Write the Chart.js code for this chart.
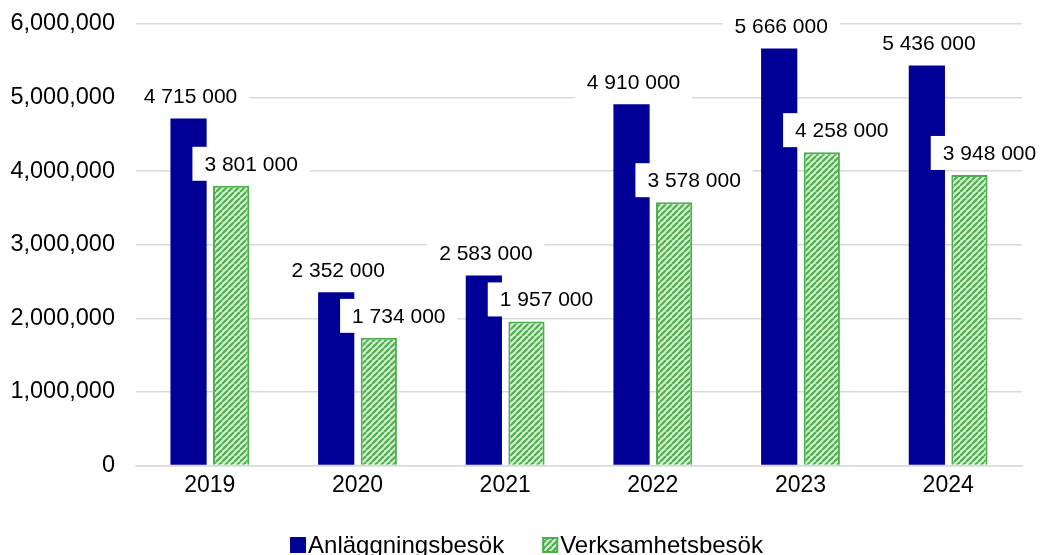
<!DOCTYPE html>
<html>
<head>
<meta charset="utf-8">
<script src="https://cdn.jsdelivr.net/npm/chart.js@4"></script>
<style>
    html, body { margin: 0; padding: 0; background: #fff; }
    #wrap { width: 1041px; height: 555px; }
</style>
</head>
<body>
<div id="wrap"><canvas id="besokChart"></canvas></div>
<script>
// data
const years = ['2019', '2020', '2021', '2022', '2023', '2024'];
const anlaggningsbesok = [4715000, 2352000, 2583000, 4910000, 5666000, 5436000];
const verksamhetsbesok = [3801000, 1734000, 1957000, 3578000, 4258000, 3948000];
const yTicks = [0, 1000000, 2000000, 3000000, 4000000, 5000000, 6000000];

const FONT = '"Liberation Sans", Arial, sans-serif';
const BLUE = '#000096';
const GREEN = '#4cae4c';

// randig grön fyllning
function makeStripes() {
    const c = document.createElement('canvas');
    c.width = 6;
    c.height = 6;
    const g = c.getContext('2d');
    g.fillStyle = '#d4ecd0';
    g.fillRect(0, 0, 6, 6);
    g.strokeStyle = GREEN;
    g.lineWidth = 2;
    g.beginPath();
    for (let k = -6; k <= 12; k += 6) {
        g.moveTo(k, 6);
        g.lineTo(k + 6, 0);
    }
    g.stroke();
    return g.createPattern(c, 'repeat');
}

const stripes = makeStripes();

function spaced(v) {
    return String(v).replace(/\B(?=(\d{3})+(?!\d))/g, ' ');
}

// etiketter med vit bakgrund (gröna förskjutna åt höger)
const labelShift = [2, 20];

const labelPlugin = {
    id: 'boxLabels',
    afterDatasetsDraw(chart) {
        const ctx = chart.ctx;
        ctx.save();
        ctx.font = '21px ' + FONT;
        ctx.textAlign = 'center';
        ctx.textBaseline = 'middle';
        chart.data.datasets.forEach((ds, i) => {
            const meta = chart.getDatasetMeta(i);
            meta.data.forEach((bar, j) => {
                const text = spaced(ds.data[j]);
                const cx = bar.x + labelShift[i];
                const cy = bar.y - 22;
                const w = ctx.measureText(text).width + 24;
                ctx.fillStyle = '#fff';
                ctx.fillRect(cx - w / 2, cy - 17, w, 34);
                ctx.fillStyle = '#000';
                ctx.fillText(text, cx, cy + 1);
            });
        });
        ctx.restore();
    }
};

// egen förklaring längst ner
const legendPlugin = {
    id: 'bottomLegend',
    afterDraw(chart) {
        const ctx = chart.ctx;
        const box = 16, gap = 2, spacing = 38;
        const y = 545;
        ctx.save();
        ctx.font = '24px ' + FONT;
        ctx.textBaseline = 'middle';
        const items = chart.data.datasets.map(ds => ({
            ds: ds,
            w: box + gap + ctx.measureText(ds.label).width
        }));
        const total = items.reduce((s, it) => s + it.w, 0) + spacing * (items.length - 1);
        let x = chart.width / 2 + 6 - total / 2;
        items.forEach(it => {
            ctx.fillStyle = it.ds.backgroundColor;
            ctx.fillRect(x, y - box / 2, box, box);
            if (it.ds.borderWidth) {
                ctx.strokeStyle = it.ds.borderColor;
                ctx.lineWidth = 2;
                ctx.strokeRect(x + 1, y - box / 2 + 1, box - 2, box - 2);
            }
            ctx.fillStyle = '#000';
            ctx.fillText(it.ds.label, x + box + gap, y + 1);
            x += it.w + spacing;
        });
        ctx.restore();
    }
};

const ctx = document.getElementById('besokChart').getContext('2d');
new Chart(ctx, {
    type: 'bar',
    data: {
        labels: years,
        datasets: [{
            label: 'Anläggningsbesök',
            data: anlaggningsbesok,
            backgroundColor: BLUE,
            borderWidth: 0
        }, {
            label: 'Verksamhetsbesök',
            data: verksamhetsbesok,
            backgroundColor: stripes,
            borderColor: GREEN,
            borderWidth: 2
        }]
    },
    options: {
        responsive: true,
        maintainAspectRatio: false,
        animation: false,
        devicePixelRatio: 1,
        categoryPercentage: 0.577,
        barPercentage: 0.85,
        layout: {
            padding: { left: 0, right: 19, top: 24, bottom: 58 }
        },
        plugins: {
            tooltip: { enabled: false },
            legend: { display: false }
        },
        scales: {
            x: {
                grid: { display: false },
                border: { color: '#d9d9d9', width: 1.5 },
                ticks: {
                    color: '#000',
                    font: { family: FONT, size: 23 },
                    padding: -2
                }
            },
            y: {
                min: 0,
                max: 6000000,
                afterBuildTicks(axis) {
                    axis.ticks = yTicks.map(v => ({ value: v }));
                },
                afterFit(axis) {
                    axis.width = 136;
                    axis.paddingTop = 0;
                    axis.paddingBottom = 0;
                },
                grid: {
                    color: '#d9d9d9',
                    lineWidth: 1.5,
                    drawTicks: false
                },
                border: { display: false },
                ticks: {
                    color: '#000',
                    font: { family: FONT, size: 23.5 },
                    padding: 21,
                    callback: v => v.toLocaleString('en-US')
                }
            }
        }
    },
    plugins: [labelPlugin, legendPlugin]
});
</script>
</body>
</html>
